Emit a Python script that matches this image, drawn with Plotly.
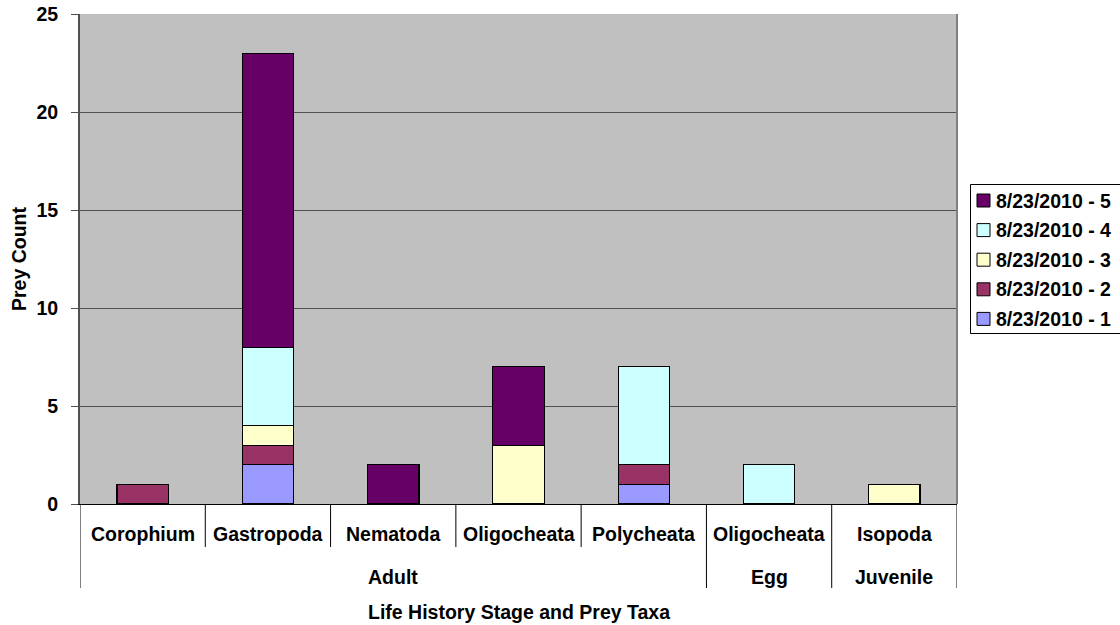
import plotly.graph_objects as go

# Prey taxa (first level) and life-history stage groups (second level)
taxa = ["Corophium", "Gastropoda", "Nematoda", "Oligocheata", "Polycheata", "Oligocheata", "Isopoda"]
stages = ["Adult", "Egg", "Juvenile"]
stage_spans = [(0, 4), (5, 5), (6, 6)]  # index ranges of taxa in each stage

series_names = ["8/23/2010 - 1", "8/23/2010 - 2", "8/23/2010 - 3", "8/23/2010 - 4", "8/23/2010 - 5"]
s1 = [0, 2, 0, 0, 1, 0, 0]
s2 = [1, 1, 0, 0, 1, 0, 0]
s3 = [0, 1, 0, 3, 0, 0, 1]
s4 = [0, 4, 0, 0, 5, 2, 0]
s5 = [0, 15, 2, 4, 0, 0, 0]
series_values = [s1, s2, s3, s4, s5]
series_colors = ["#9999FF", "#993366", "#FFFFCC", "#CCFFFF", "#660066"]

FONT = "Liberation Sans, Arial, sans-serif"
LBL = 19.5

x_pos = list(range(len(taxa)))

fig = go.Figure()
for name, vals, col in zip(series_names, series_values, series_colors):
    fig.add_trace(go.Bar(
        x=x_pos, y=vals, name=name, width=0.41, showlegend=False,
        marker=dict(color=col, line=dict(color="black", width=1.2)),
    ))

# geometry of the plot area in pixels
W, H = 1120, 625
L, R, T, B = 80, 957, 14, 504
ph = B - T
pw = R - L


def py(pix):
    """pixel row -> paper y"""
    return (B - pix) / ph


def px(pix):
    """pixel column -> paper x"""
    return (pix - L) / pw


def bold(size=LBL):
    return dict(family=FONT, size=size, color="black", weight="bold")


shapes = []
annotations = []

# dividers below the category axis
long_div = {-0.5} | {hi + 0.5 for _, hi in stage_spans}
for i in range(len(taxa) + 1):
    xd = i - 0.5
    y_end = py(588) if xd in long_div else py(547)
    shapes.append(dict(type="line", xref="x", yref="paper", x0=xd, x1=xd,
                       y0=0, y1=y_end, line=dict(color="black", width=1)))

# first-level labels (taxa)
for i, t in enumerate(taxa):
    annotations.append(dict(x=i, y=py(534), xref="x", yref="paper", text=t,
                            showarrow=False, yanchor="middle", font=bold()))

# second-level labels (stages)
for s, (lo, hi) in zip(stages, stage_spans):
    annotations.append(dict(x=(lo + hi) / 2, y=py(577), xref="x", yref="paper", text=s,
                            showarrow=False, yanchor="middle", font=bold()))

# axis titles
annotations.append(dict(x=0.5, y=py(612), xref="paper", yref="paper",
                        text="Life History Stage and Prey Taxa", showarrow=False,
                        yanchor="middle", font=bold()))
annotations.append(dict(x=px(19), y=0.5, xref="paper", yref="paper", text="Prey Count",
                        showarrow=False, textangle=-90, xanchor="center", font=bold()))

# plot area border (right edge)
shapes.append(dict(type="line", xref="paper", yref="paper", x0=1, x1=1, y0=0, y1=1,
                   line=dict(color="#808080", width=2)))

# legend box, last series on top
shapes.append(dict(type="rect", xref="paper", yref="paper",
                   x0=px(970.5), x1=px(1130), y0=py(184.5), y1=py(333.5),
                   line=dict(color="black", width=1), fillcolor="white"))
n = len(series_names)
for k in range(n):
    idx = n - 1 - k
    yc = 200.5 + 29.6 * k
    shapes.append(dict(type="rect", xref="paper", yref="paper",
                       x0=px(977), x1=px(990), y0=py(yc - 6.5), y1=py(yc + 6.5),
                       line=dict(color="black", width=1), fillcolor=series_colors[idx]))
    annotations.append(dict(x=px(994), y=py(yc), xref="paper", yref="paper",
                            text=series_names[idx], showarrow=False,
                            xanchor="left", yanchor="middle", font=bold()))

fig.update_layout(
    width=W, height=H,
    margin=dict(l=L, r=W - R, t=T, b=H - B, pad=0, autoexpand=False),
    barmode="stack",
    paper_bgcolor="white",
    plot_bgcolor="#C0C0C0",
    showlegend=False,
    xaxis=dict(
        range=[-0.5, len(taxa) - 0.5], showticklabels=False, ticks="",
        showgrid=False, zeroline=False, showline=True, linecolor="black", linewidth=1,
        fixedrange=True,
    ),
    yaxis=dict(
        range=[0, 25], dtick=5, tick0=0,
        showgrid=True, gridcolor="#505050", gridwidth=1,
        zeroline=False, showline=True, linecolor="#505050", linewidth=2,
        ticks="outside", ticklen=7, tickcolor="#505050", tickwidth=1,
        ticklabelstandoff=9,
        tickfont=bold(),
        fixedrange=True,
    ),
    shapes=shapes,
    annotations=annotations,
)

fig.write_html("out.html")
